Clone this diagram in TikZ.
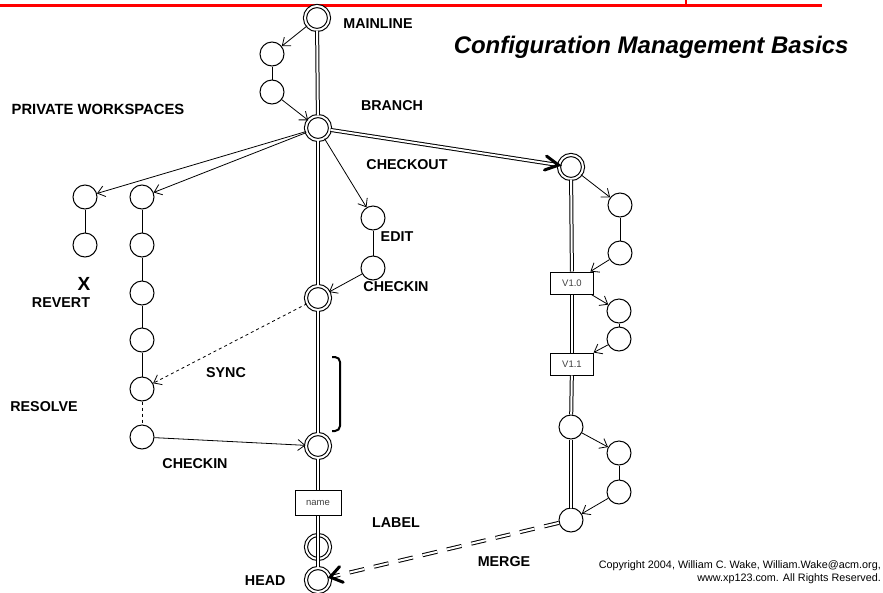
\documentclass[tikz,border=0pt]{standalone}
\usepackage{fontspec}
\setmainfont{Liberation Sans}
\usetikzlibrary{arrows.meta,calc}
\begin{document}
\begin{tikzpicture}[x=1pt,y=-1pt,
  sc/.style={circle,draw,line width=1pt,fill=white,minimum size=24pt,inner sep=0pt},
  dc/.style={circle,draw,line width=1.1pt,double,double distance=2pt,fill=white,minimum size=24pt,inner sep=0pt},
  dco/.style={circle,draw,line width=1.1pt,double,double distance=2pt,minimum size=24pt,inner sep=0pt},
  bx/.style={rectangle,draw,line width=1pt,fill=white,inner sep=0pt,font=\fontsize{9.5}{10}\selectfont,text=black!75},
  lbl/.style={font=\fontsize{14.3}{16}\selectfont\bfseries},
  arr/.style={line width=0.8pt,-{Straight Barb[length=7pt,width=11pt,line width=0.8pt]}},
  rail/.style={line width=1pt,double,double distance=2pt},
  plain/.style={line width=1pt},
  chev/.style={line width=3pt,line cap=round,line join=miter},
]
\useasboundingbox (0,0) rectangle (883,592);
% red header line
\draw[red,line width=3pt] (0,5) -- (822,5);
\draw[red,line width=2pt] (686,0) -- (686,5);

% mainline nodes
\node[dc] (ml) at (317,18) {};
\node[sc] (a1) at (272,54) {};
\node[sc] (a2) at (272,92) {};
\node[dc] (br) at (318,128) {};
\node[dc] (ci1) at (318,298) {};
\node[dc] (ci2) at (318,446) {};
\node[bx,minimum width=46pt,minimum height=25pt] (nm) at (318,503) {name};
\node[dco] (lb) at (318,547) {};
\node[dc] (hd) at (318,580) {};

% edit
\node[sc] (e1) at (373,218) {};
\node[sc] (e2) at (373,268) {};

% workspaces
\node[sc] (w1a) at (85,197) {};
\node[sc] (w1b) at (85,245) {};
\node[sc] (w2a) at (142,197) {};
\node[sc] (w2b) at (142,245) {};
\node[sc] (w2c) at (142,293) {};
\node[sc] (w2d) at (142,340) {};
\node[sc] (w2e) at (142,389) {};
\node[sc] (w2f) at (142,437) {};

% branch
\node[dc] (co) at (571,167) {};
\node[sc] (b1) at (620,205) {};
\node[sc] (b2) at (620,253) {};
\node[bx,minimum width=43pt,minimum height=22pt] (v10) at (572,283) {V1.0};
\node[sc] (b3) at (619,311) {};
\node[sc] (b4) at (619,339) {};
\node[bx,minimum width=43pt,minimum height=22pt] (v11) at (572,364) {V1.1};
\node[sc] (bc) at (571,427) {};
\node[sc] (b5) at (619,453) {};
\node[sc] (b6) at (619,492) {};
\node[sc] (mg) at (571,520) {};

% rails
\draw[rail] (ml) -- (br);
\draw[rail] (br) -- (ci1);
\draw[rail] (ci1) -- (ci2);
\draw[rail] (ci2) -- (nm);
\draw[rail] (nm) -- (hd);
\draw[rail] (co) -- (v10);
\draw[rail] (v10) -- (v11);
\draw[rail] (v11) -- (bc);
\draw[rail] (bc) -- (mg);

% branch arrow
\path (br) -- (co) coordinate[pos=1] (coT);
\draw[rail,shorten >=2pt] (br) -- (coT);
\draw[chev] ($(coT)!15pt!28:(br)$) -- (coT) -- ($(coT)!15pt!-28:(br)$);

% merge arrow
\path (mg) -- (hd) coordinate[pos=1] (hdT);
\draw[rail,dash pattern=on 15pt off 10pt,shorten >=3pt] (mg) -- (hdT);
\draw[chev] ($(hdT)!14pt!35:(mg)$) -- (hdT) -- ($(hdT)!14pt!-35:(mg)$);

% thin arrows and links
\draw[arr] (ml) -- (a1);
\draw[plain] (a1) -- (a2);
\draw[arr] (a2) -- (br);
\draw[arr] (br) -- (w1a);
\draw[arr] (br) -- (w2a);
\draw[arr] (br) -- (e1);
\draw[plain] (e1) -- (e2);
\draw[arr] (e2) -- (ci1);
\draw[arr,dashed] (ci1) -- (w2e);
\draw[arr] (w2f) -- (ci2);
\draw[plain] (w1a) -- (w1b);
\draw[plain] (w2a) -- (w2b);
\draw[plain] (w2b) -- (w2c);
\draw[plain] (w2c) -- (w2d);
\draw[plain] (w2d) -- (w2e);
\draw[plain,dashed] (w2e) -- (w2f);
\draw[arr] (co) -- (b1);
\draw[plain] (b1) -- (b2);
\draw[arr] (b2) -- (v10);
\draw[arr] (v10) -- (b3);
\draw[plain] (b3) -- (b4);
\draw[arr] (b4) -- (v11);
\draw[arr] (bc) -- (b5);
\draw[plain] (b5) -- (b6);
\draw[arr] (b6) -- (mg);

% bracket
\draw[line width=2pt,rounded corners=5pt] (332,357) -- (340,357) -- (340,431) -- (332,431);

% labels
\node[lbl] (tMainline) at (378,24) {MAINLINE};
\node[lbl] (tBranch) at (392,106) {BRANCH};
\node[lbl,font=\fontsize{14.8}{16}\selectfont\bfseries] (tPriv) at (98,109) {PRIVATE WORKSPACES};
\node[lbl] (tCheckout) at (407,165) {CHECKOUT};
\node[lbl] (tEdit) at (397,237) {EDIT};
\node[lbl] (tCheckin) at (396,287) {CHECKIN};
\node[font=\fontsize{19}{20}\selectfont\bfseries] (tX) at (84,284) {X};
\node[lbl] (tRevert) at (61,303) {REVERT};
\node[lbl] (tSync) at (226,373) {SYNC};
\node[lbl] (tResolve) at (44,407) {RESOLVE};
\node[lbl] (tCheckin2) at (195,464) {CHECKIN};
\node[lbl] (tLabel) at (396,523) {LABEL};
\node[lbl] (tMerge) at (504,562) {MERGE};
\node[lbl,anchor=east] (tHead) at (289,581) {HEAD};
\node[anchor=east,font=\fontsize{24}{26}\selectfont\bfseries\itshape] (title) at (852,47) {Configuration Management Basics};
\node[anchor=north east,align=right,font=\fontsize{10.8}{13}\selectfont,inner sep=0pt] (copy) at (881,560) {Copyright 2004, William C. Wake, William.Wake@acm.org,\\www.xp123.com. All Rights Reserved.};
\end{tikzpicture}
\end{document}
